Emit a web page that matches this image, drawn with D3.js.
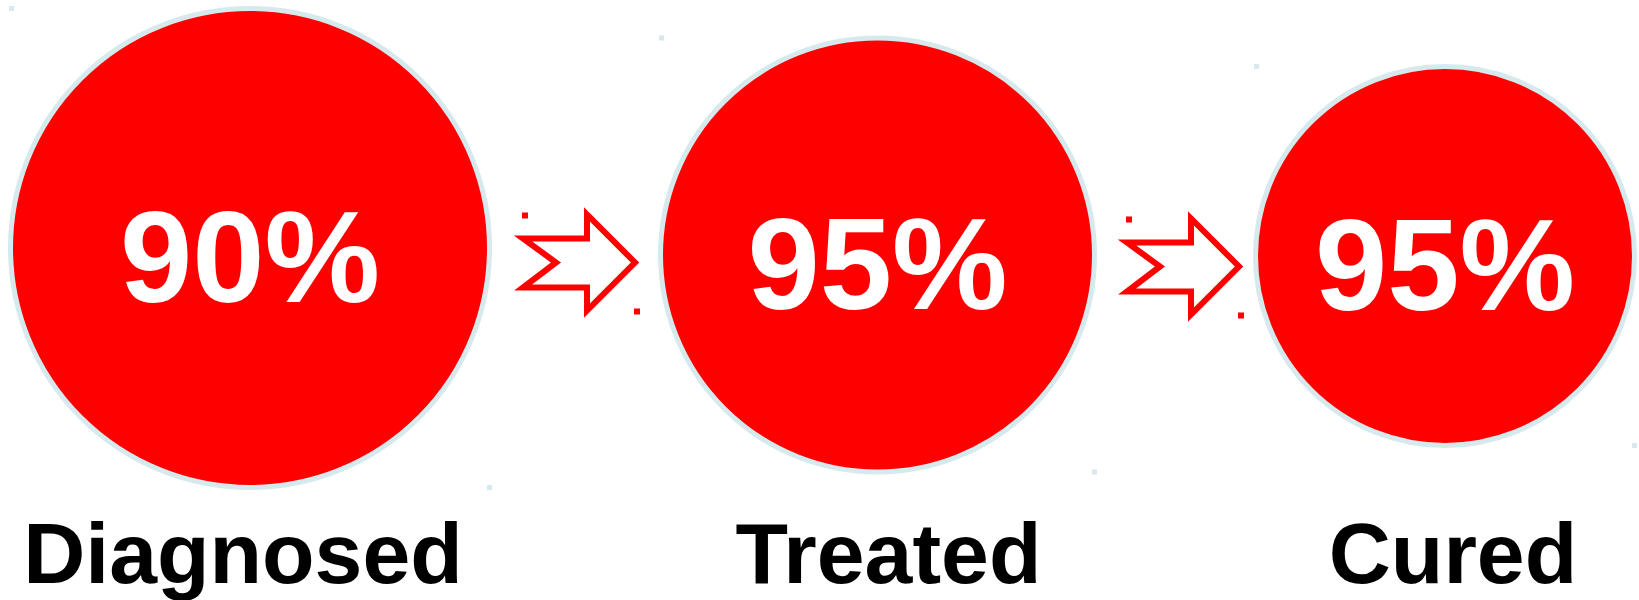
<!DOCTYPE html>
<html>
<head>
<meta charset="utf-8">
<script src="https://cdn.jsdelivr.net/npm/d3@7"></script>
<style>
  html, body { margin: 0; padding: 0; background: #fff; }
  svg { display: block; }
</style>
</head>
<body>
<script>
// stages of the cascade and the share reaching each one
const stages = ["Diagnosed", "Treated", "Cured"];
const rates = [90, 95, 95];

const width = 1639, height = 600;
const red = "#fe0000", rim = "#d6eaed";
const fontFam = "'Liberation Sans', Arial, sans-serif";

const svg = d3.select("body").append("svg")
  .attr("width", width)
  .attr("height", height);

svg.append("rect").attr("width", width).attr("height", height).attr("fill", "#fff");

// circles shrink from one stage to the next
let idx = d3.scaleLinear().domain([0, 1, 2]);
let rScale = idx.copy().range([242, 219.5, 192]);
let cyScale = idx.copy().range([248, 255, 256]);
let gapScale = d3.scaleLinear().domain([0, 1]).range([166, 156]);
let labelNudge = d3.scaleLinear().domain([0, 1, 2]).range([-7, 11, 8]);

let left = 8;
let nodes = [];
let run = left;
stages.forEach((s, i) => {
  let r = rScale(i);
  nodes.push({stage: s, rate: rates[i], i: i, r: r, cx: run + r, cy: cyScale(i)});
  run += 2 * r + gapScale(i);
});

let fmt = d => d + "%";

let g = svg.selectAll("g.node")
  .data(nodes)
  .enter().append("g")
  .attr("class", "node");

g.append("circle")
  .attr("cx", d => d.cx)
  .attr("cy", d => d.cy)
  .attr("r", d => d.r - 2.5)
  .attr("fill", red)
  .attr("stroke", rim)
  .attr("stroke-width", 5);

// selection-handle specks at the box corners
g.append("rect")
  .attr("x", d => d.cx - d.r + 1)
  .attr("y", d => d.cy - d.r + 0)
  .attr("width", 5).attr("height", 5)
  .attr("fill", rim);
g.append("rect")
  .attr("x", d => d.cx + d.r - 5)
  .attr("y", d => d.cy + d.r - 5)
  .attr("width", 5).attr("height", 5)
  .attr("fill", rim);

g.append("text")
  .attr("x", d => d.cx)
  .attr("y", d => d.cy + 54)
  .attr("text-anchor", "middle")
  .attr("font-family", fontFam)
  .attr("font-weight", "bold")
  .attr("font-size", 130)
  .attr("fill", "#fff")
  .text(d => fmt(d.rate));

g.append("text")
  .attr("x", d => d.cx + labelNudge(d.i))
  .attr("y", 583)
  .attr("text-anchor", "middle")
  .attr("font-family", fontFam)
  .attr("font-weight", "bold")
  .attr("font-size", 86)
  .attr("fill", "#000")
  .text(d => d.stage);

// notched arrows between consecutive circles
let arrows = d3.pairs(nodes).map(([a, b], i) => ({
  x: (a.cx + a.r + b.cx - b.r) / 2 + 4 + i * 4,
  y: (a.cy + b.cy) / 2 + 11
}));

let arrowPts = [[-56, -24], [8, -24], [8, -48], [56, 0], [8, 48], [8, 25], [-56, 25], [-23, 0]];
let line = d3.line();

let ag = svg.selectAll("g.arrow")
  .data(arrows)
  .enter().append("g")
  .attr("class", "arrow")
  .attr("transform", d => "translate(" + d.x + "," + d.y + ")");

ag.append("path")
  .attr("d", line(arrowPts) + "Z")
  .attr("fill", "none")
  .attr("stroke", red)
  .attr("stroke-width", 6)
  .attr("stroke-linejoin", "miter")
  .attr("stroke-miterlimit", 10);

ag.append("rect")
  .attr("x", -57).attr("y", -50)
  .attr("width", 6).attr("height", 6)
  .attr("fill", red);
ag.append("rect")
  .attr("x", 55).attr("y", 46)
  .attr("width", 6).attr("height", 6)
  .attr("fill", red);
</script>
</body>
</html>
